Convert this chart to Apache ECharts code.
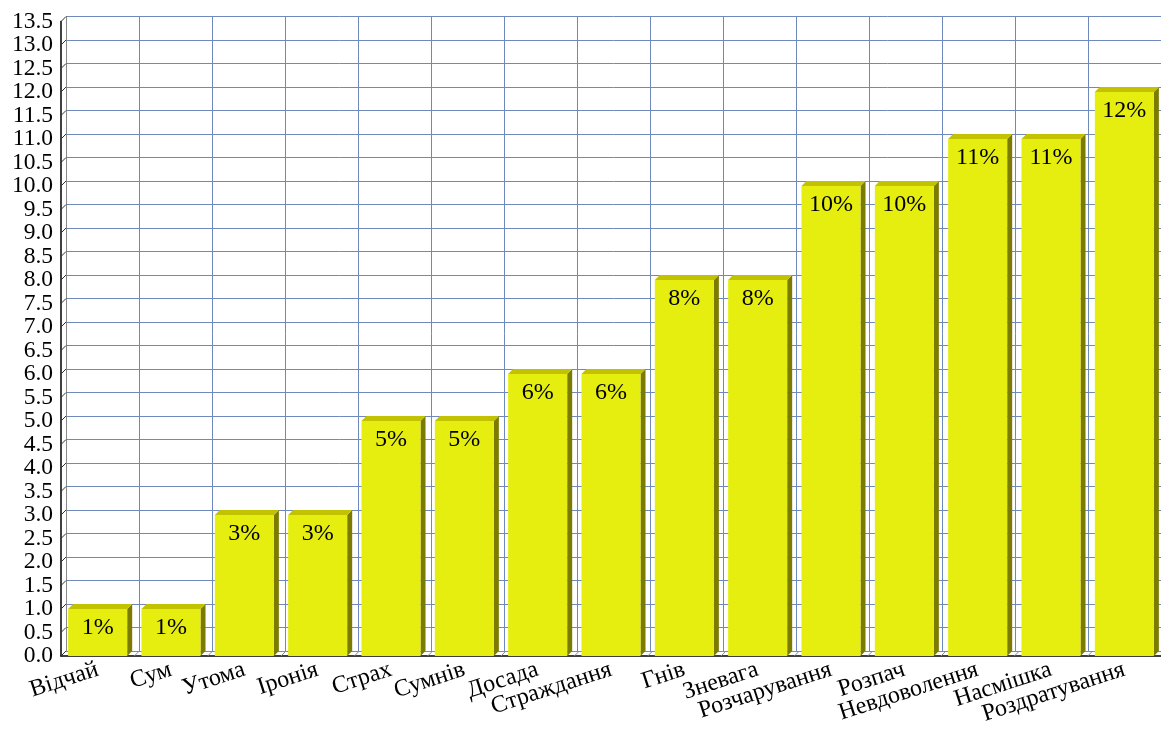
<!DOCTYPE html>
<html>
<head>
<meta charset="utf-8">
<script src="https://cdn.jsdelivr.net/npm/echarts@6/dist/echarts.min.js"></script>
<style>
html,body{margin:0;padding:0;background:#fff;}
#chart{width:1161px;height:731px;}
</style>
</head>
<body>
<div id="chart"></div>
<script>
// ---- data ----
const categories = ['Відчай','Сум','Утома','Іронія','Страх','Сумнів','Досада','Страждання','Гнів','Зневага','Розчарування','Розпач','Невдоволення','Насмішка','Роздратування'];
const values = [1,1,3,3,5,5,6,6,8,8,10,10,11,11,12];
const valueLabels = ['1%','1%','3%','3%','5%','5%','6%','6%','8%','8%','10%','10%','11%','11%','12%'];
const yTicks = [0,0.5,1,1.5,2,2.5,3,3.5,4,4.5,5,5.5,6,6.5,7,7.5,8,8.5,9,9.5,10,10.5,11,11.5,12,12.5,13,13.5];
const yTickLabels = ['0.0','0.5','1.0','1.5','2.0','2.5','3.0','3.5','4.0','4.5','5.0','5.5','6.0','6.5','7.0','7.5','8.0','8.5','9.0','9.5','10.0','10.5','11.0','11.5','12.0','12.5','13.0','13.5'];
const yMin = 0, yMax = 13.5, yInterval = 0.5;

// ---- layout / style ----
const staggered = [7,10,12,14]; // labels drawn one row lower
const DEPTH = 5;
const FONT = '"Liberation Serif","Times New Roman",serif';
const GRID_COLOR = '#7089bd';
const FRONT = '#e6ee10', TOP = '#c2c200', SIDE = '#7b7b00';

const xData = categories.map((c, i) => staggered.indexOf(i) >= 0
  ? { value: c, textStyle: { padding: [44, 0, 0, 0] } }
  : c);

const chart = echarts.init(document.getElementById('chart'), null, {renderer: 'canvas'});

function barItem(params, api) {
  const idx = api.value(0), v = api.value(1);
  const t = api.coord([idx, v]);
  const b = api.coord([idx, 0]);
  const bw = api.size([1, 0])[0] * 0.805;
  const x0 = t[0] - bw / 2, x1 = t[0] + bw / 2, yt = t[1], yb = b[1], d = DEPTH;
  return {
    type: 'group',
    children: [
      { type: 'polygon', shape: { points: [[x1, yt], [x1 + d, yt - d], [x1 + d, yb - d], [x1, yb]] }, style: { fill: SIDE } },
      { type: 'polygon', shape: { points: [[x0, yt], [x0 + d, yt - d], [x1 + d, yt - d], [x1, yt]] }, style: { fill: TOP } },
      { type: 'rect', shape: { x: x0, y: yt, width: bw, height: yb - yt }, style: { fill: FRONT } },
      { type: 'text', style: { text: valueLabels[params.dataIndex], x: t[0], y: yt + 19, font: '24px ' + FONT, fill: '#000', align: 'center', verticalAlign: 'middle', textAlign: 'center', textVerticalAlign: 'middle' } }
    ]
  };
}

function decorItem(params, api) {
  const w = api.size([1, 0])[0];
  const left = api.coord([0, 0])[0] - w / 2;
  const y0 = api.coord([0, 0])[1];
  const d = DEPTH;
  const children = [];
  for (let k = 0; k <= categories.length; k++) {
    const x = left + k * w;
    children.push({ type: 'line', shape: { x1: x, y1: y0, x2: x + d, y2: y0 - d }, style: { stroke: '#8c8c8c', lineWidth: 1 } });
  }
  yTicks.forEach((v, i) => {
    const y = api.coord([0, v])[1];
    children.push({ type: 'line', shape: { x1: left, y1: y, x2: left + d, y2: y - d }, style: { stroke: '#333', lineWidth: 1 } });
    children.push({ type: 'text', style: { text: yTickLabels[i], x: left - 8, y: y, font: '23.5px ' + FONT, fill: '#000', align: 'right', verticalAlign: 'middle', textAlign: 'right', textVerticalAlign: 'middle' } });
  });
  return { type: 'group', children: children };
}

const option = {
  backgroundColor: '#ffffff',
  animation: false,
  grid: [
    { left: 61, right: -5, top: 21.5, bottom: 75 },
    { left: 61 + DEPTH, right: -5 - DEPTH, top: 21.5 - DEPTH, bottom: 75 + DEPTH }
  ],
  xAxis: [
    {
      gridIndex: 0, type: 'category', data: xData, boundaryGap: true,
      axisLine: { show: true, lineStyle: { color: '#000', width: 1.5 } },
      axisTick: { show: false },
      splitLine: { show: false },
      axisLabel: { interval: 0, rotate: 18, margin: 13, fontFamily: FONT, fontSize: 24, color: '#000', hideOverlap: false }
    },
    {
      gridIndex: 1, type: 'category', data: categories, boundaryGap: true, position: 'top',
      axisLine: { show: true, lineStyle: { color: '#8a8a8a', width: 1 } },
      axisTick: { show: false, interval: 0 }, axisLabel: { show: false, interval: 0 },
      splitLine: { show: true, interval: 0, lineStyle: { color: GRID_COLOR, width: 1 } }
    }
  ],
  yAxis: [
    {
      gridIndex: 0, type: 'value', min: yMin, max: yMax, interval: yInterval,
      axisLine: { show: true, lineStyle: { color: '#000', width: 1.5 } },
      axisTick: { show: false },
      splitLine: { show: false },
      axisLabel: { show: false }
    },
    {
      gridIndex: 1, type: 'value', min: yMin, max: yMax, interval: yInterval,
      axisLine: { show: true, lineStyle: { color: '#8a8a8a', width: 1 } },
      axisTick: { show: false }, axisLabel: { show: false },
      splitLine: { show: true, lineStyle: { color: GRID_COLOR, width: 1 } }
    }
  ],
  series: [
    {
      type: 'custom', xAxisIndex: 0, yAxisIndex: 0, clip: false, z: 1,
      renderItem: decorItem, data: [[0, 0]], silent: true
    },
    {
      type: 'custom', xAxisIndex: 0, yAxisIndex: 0, clip: false, z: 3,
      renderItem: barItem,
      data: values.map((v, i) => [i, v])
    }
  ]
};
chart.setOption(option);
</script>
</body>
</html>
